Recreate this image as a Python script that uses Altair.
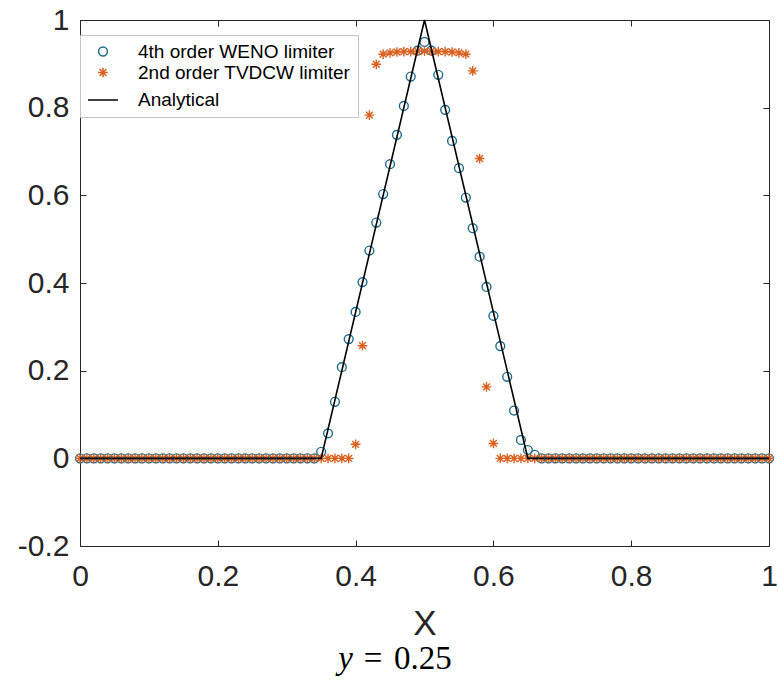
import altair as alt
import pandas as pd

# ---------------- data ----------------
grid_x = [i / 100 for i in range(101)]

weno_y = ([0.0] * 35 +
          [0.015, 0.057, 0.129, 0.208, 0.272, 0.334, 0.402, 0.474, 0.538, 0.603,
           0.671, 0.738, 0.804, 0.871, 0.930, 0.950, 0.930, 0.875, 0.795, 0.724,
           0.662, 0.595, 0.525, 0.460, 0.391, 0.325, 0.256, 0.186, 0.109, 0.042,
           0.019, 0.008] +
          [0.0] * 34)

tvd_y = ([0.0] * 40 +
         [0.032, 0.257, 0.783, 0.899,
          0.922, 0.925, 0.927, 0.928, 0.928, 0.929, 0.929, 0.929, 0.928, 0.928,
          0.927, 0.925, 0.922,
          0.884, 0.684, 0.163, 0.034] +
         [0.0] * 40)

ana_x = [0.0, 0.35, 0.5, 0.65, 1.0]
ana_y = [0.0, 0.0, 1.0, 0.0, 0.0]

series_names = ["4th order WENO limiter", "2nd order TVDCW limiter", "Analytical"]
series_colors = ["#1d6c8f", "#d9601f", "#000000"]
x_ticks = [0, 0.2, 0.4, 0.6, 0.8, 1]
y_ticks = [-0.2, 0, 0.2, 0.4, 0.6, 0.8, 1]
caption_parts = ["y", "=", "0.25"]

pts = pd.DataFrame({
    "x": grid_x + grid_x,
    "y": weno_y + tvd_y,
    "series": [series_names[0]] * len(grid_x) + [series_names[1]] * len(grid_x),
})
ana = pd.DataFrame({"x": ana_x, "y": ana_y})

# ---------------- styling ----------------
FONT = "Liberation Sans"
SERIF = "Liberation Serif"
INK = "#262626"
W, H = 689, 526
asterisk = "M0,-1L0,1M-1,0L1,0M-0.7,-0.7L0.7,0.7M-0.7,0.7L0.7,-0.7"

xs = alt.Scale(domain=[0, 1], nice=False, zero=False)
ys = alt.Scale(domain=[-0.2, 1], nice=False, zero=False)
lab = "datum.value < 0 ? '-' + format(-datum.value, '~g') : format(datum.value, '~g')"


def tick_axis(orient, values):
    return alt.Axis(orient=orient, values=values, labels=False, domain=False,
                    grid=False, ticks=True, tickSize=6, offset=-6,
                    tickColor=INK, tickWidth=1, title=None)


points = alt.Chart(pts).mark_point(filled=False, strokeWidth=1.4, opacity=1).encode(
    x=alt.X("x:Q", scale=xs, axis=tick_axis("bottom", x_ticks)),
    y=alt.Y("y:Q", scale=ys, axis=tick_axis("left", y_ticks)),
    color=alt.Color("series:N", scale=alt.Scale(domain=series_names, range=series_colors),
                    legend=alt.Legend(title=None)),
    shape=alt.Shape("series:N", scale=alt.Scale(domain=series_names,
                                                range=["circle", asterisk, "stroke"]),
                    legend=alt.Legend(title=None)),
    size=alt.Size("series:N", scale=alt.Scale(type="ordinal", domain=series_names,
                                              range=[78, 95, 900]),
                  legend=alt.Legend(title=None)),
    order=alt.Order("series:N", sort="descending"),
)

line = alt.Chart(ana).mark_line(color="black", strokeWidth=1.6).encode(
    x=alt.X("x:Q", scale=xs,
            axis=alt.Axis(orient="bottom", values=x_ticks, labelExpr=lab, ticks=False,
                          domain=False, grid=False, title="X", labelPadding=15,
                          labelFlush=False, titlePadding=15)),
    y=alt.Y("y:Q", scale=ys,
            axis=alt.Axis(orient="left", values=y_ticks, labelExpr=lab, ticks=False,
                          domain=False, grid=False, title=None, labelPadding=11,
                          labelFlush=False)),
)

ghost = alt.Chart(ana).mark_line(opacity=0).encode(
    x=alt.X("x:Q", scale=xs, axis=tick_axis("top", x_ticks)),
    y=alt.Y("y:Q", scale=ys, axis=tick_axis("right", y_ticks)),
)

cap_y = alt.Chart(pd.DataFrame({"t": [caption_parts[0]]})).mark_text(
    font=SERIF, fontSize=33, fontStyle="italic", align="right",
    baseline="alphabetic", color="black").encode(
    text="t:N", x=alt.value(273), y=alt.value(649))

cap_eq = alt.Chart(pd.DataFrame({"t": [caption_parts[1]]})).mark_text(
    font=SERIF, fontSize=33, align="center",
    baseline="alphabetic", color="black").encode(
    text="t:N", x=alt.value(293), y=alt.value(649))

cap_num = alt.Chart(pd.DataFrame({"t": [caption_parts[2]]})).mark_text(
    font=SERIF, fontSize=33, align="left",
    baseline="alphabetic", color="black").encode(
    text="t:N", x=alt.value(314), y=alt.value(649))

chart = alt.layer(points, line, ghost, cap_y, cap_eq, cap_num).resolve_axis(
    x="independent", y="independent"
).properties(
    width=W, height=H,
    padding={"left": 80, "top": 20, "right": 10, "bottom": 138},
    autosize=alt.AutoSizeParams(type="none"),
    background="white",
).configure_view(
    stroke=INK, strokeWidth=1
).configure_axis(
    labelFont=FONT, labelFontSize=30, labelColor=INK,
    titleFont=FONT, titleFontSize=35, titleFontWeight="normal", titleColor=INK,
).configure_legend(
    orient="none", legendX=0, legendY=15,
    fillColor="white", strokeColor="#c4c4c4", padding=7,
    labelFont=FONT, labelFontSize=19, labelColor="black", labelLimit=400,
    symbolStrokeWidth=1.5, labelOffset=19, rowPadding=1,
)

chart.save("out.html", embed_options={"renderer": "svg", "actions": False})
